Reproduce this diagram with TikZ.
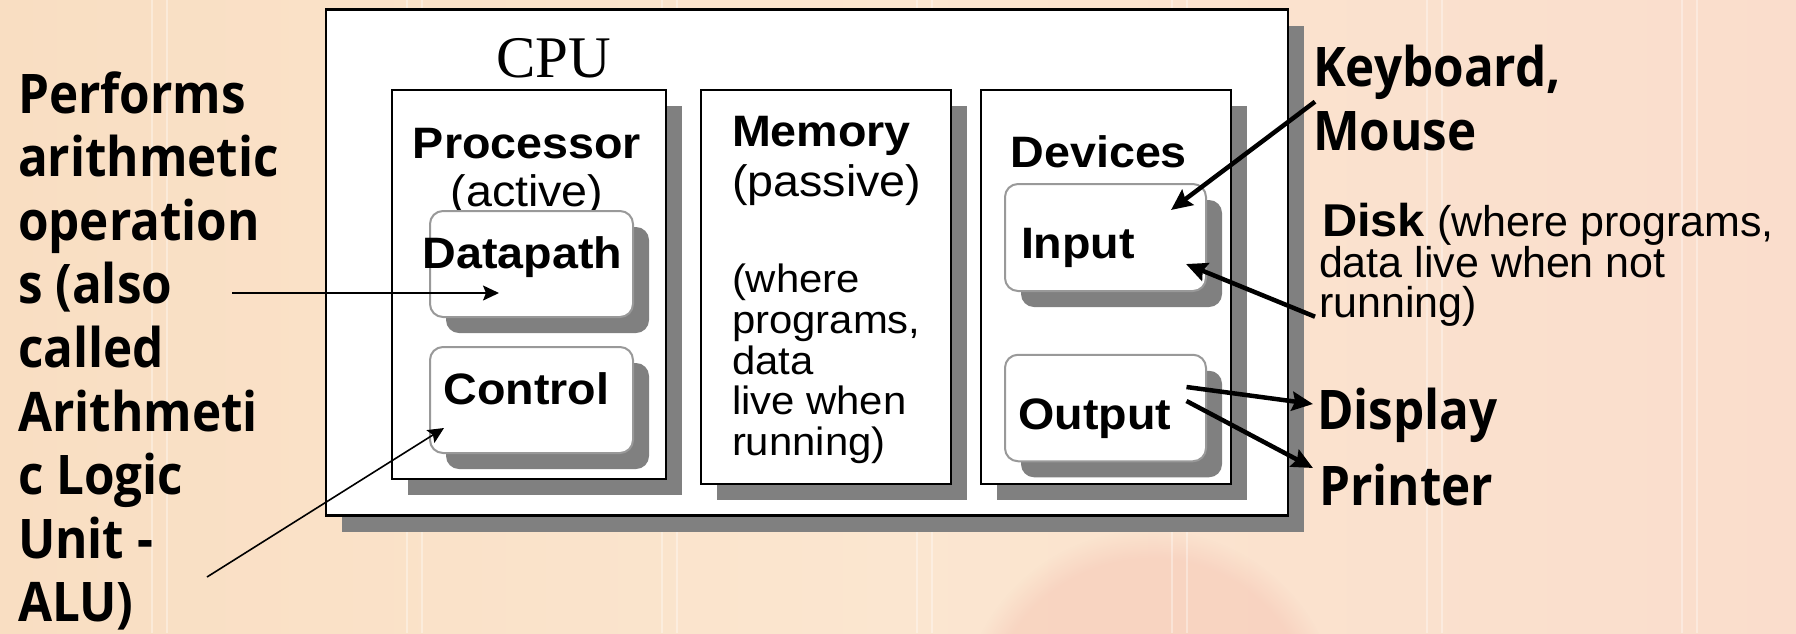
\documentclass[tikz,border=0pt]{standalone}
\usepackage{fontspec}
\setmainfont{Liberation Sans}
\newfontfamily\diagfont{Liberation Sans}[FakeStretch=1.06]
\newfontfamily\cpufont{Liberation Serif}
\newfontfamily\slidefont{Open Sans}[FakeStretch=0.905]
\usetikzlibrary{arrows.meta,shadows,fadings}

\definecolor{bgL}{HTML}{F9DEC2}
\definecolor{bgM}{HTML}{FBE6D0}
\definecolor{bgR}{HTML}{FADDCC}
\definecolor{discpink}{HTML}{F5C2B2}
\definecolor{shadowgray}{HTML}{808080}
\definecolor{unitgray}{HTML}{999999}

\newcommand\slidebold{\slidefont\bfseries\fontsize{54.6}{63.6}\selectfont}
\newcommand\diagbold{\diagfont\bfseries\fontsize{44}{40.7}\selectfont}
\newcommand\diagreg{\diagfont\fontsize{44}{40.7}\selectfont}
\newcommand\diagsmall{\diagfont\fontsize{39.5}{40.7}\selectfont}
\newcommand\notereg{\fontsize{43}{40}\selectfont}

\begin{document}
\begin{tikzpicture}[x=1pt,y=-1pt,
  txt/.style={inner sep=0pt,outer sep=0pt},
  panel/.style={draw=black,line width=2.2pt,fill=white,inner sep=0pt,
    drop shadow={shadow xshift=16pt,shadow yshift=-16pt,fill=shadowgray,opacity=1}},
  unitbox/.style={draw=unitgray,line width=2pt,fill=white,rounded corners=13pt,inner sep=0pt,
    minimum width=203pt,minimum height=106pt,
    drop shadow={shadow xshift=16pt,shadow yshift=-16pt,fill=shadowgray,opacity=1}},
  thinarrow/.style={-{Stealth[length=16pt,width=15pt,inset=3pt]},line width=1.6pt},
  thickarrow/.style={-{Stealth[length=21pt,width=19pt,inset=3pt]},line width=4.5pt}]
\useasboundingbox (0,0) rectangle (1796,633);

% slide background
\shade[left color=bgL,right color=bgR,middle color=bgM] (0,0) rectangle (1796,633);
\fill[discpink,opacity=0.45,path fading=circle with fuzzy edge 15 percent]
  (1150,720) circle (190);
\foreach \k in {0,...,6}{
  \draw[white,opacity=0.35,line width=1.2pt] ({152+255*\k},0) -- ({152+255*\k},633);
  \draw[white,opacity=0.35,line width=1.2pt] ({167+255*\k},0) -- ({167+255*\k},633);
}

% computer frame and its three parts
\node[panel,line width=2.6pt,minimum width=962pt,minimum height=506pt] (cpu) at (807,262.5) {};
\node[txt,anchor=base west,font=\cpufont\fontsize{59}{59}\selectfont] (cpulabel) at (496,77) {CPU};

\node[panel,minimum width=274pt,minimum height=389pt] (proc) at (529,284.5) {};
\node[panel,minimum width=250pt,minimum height=394pt] (mem) at (826,287) {};
\node[panel,minimum width=250pt,minimum height=394pt] (dev) at (1106,287) {};

% processor
\node[txt,anchor=base,font=\diagbold] (proctitle) at (527,158) {Processor};
\node[txt,anchor=base,font=\diagreg] (procnote) at (527,206) {(active)};
\node[unitbox] (datapath) at (531.5,264) {};
\node[unitbox] (control) at (531.5,400) {};
\node[txt,anchor=base west,font=\diagbold] (dptext) at (422.7,268.3) {Datapath};
\node[txt,anchor=base,font=\diagbold] (cttext) at (526.5,404) {Control};

% memory
\node[txt,anchor=base west,font=\diagbold] (memtitle) at (732,146.7) {Memory};
\node[txt,anchor=base west,font=\diagreg] (memnote) at (732,196) {(passive)};
\node[txt,anchor=base west,font=\diagsmall] (mem1) at (732,292) {(where};
\node[txt,anchor=base west,font=\diagsmall] (mem2) at (732,333) {programs,};
\node[txt,anchor=base west,font=\diagsmall] (mem3) at (732,374) {data};
\node[txt,anchor=base west,font=\diagsmall] (mem4) at (732,414) {live when};
\node[txt,anchor=base west,font=\diagsmall] (mem5) at (732,455) {running)};

% devices
\node[txt,anchor=base west,font=\diagbold] (devtitle) at (1010.6,167.3) {Devices};
\node[unitbox,minimum width=201pt,minimum height=107pt] (input) at (1105.5,237.5) {};
\node[unitbox,minimum width=201pt,minimum height=106.5pt] (output) at (1105.5,408) {};
\node[txt,anchor=base west,font=\diagbold] (intext) at (1021,258.6) {Input};
\node[txt,anchor=base west,font=\diagbold] (outtext) at (1018.6,429) {Output};

% ALU description on the left
\foreach \t [count=\i] in {Performs,arithmetic,operation,s (also,called,Arithmeti,c Logic,Unit -,ALU)}
  \node[txt,anchor=base west,font=\slidebold] (alu\i) at (18,{113+63.6*(\i-1)}) {\t};

% peripherals on the right
\node[txt,anchor=base west,font=\slidebold] (kb) at (1313,86.7) {Keyboard,};
\node[txt,anchor=base west,font=\slidebold] (mouse) at (1313,150) {Mouse};
\node[txt,anchor=base west] (disk) at (1322,236)
  {{\diagfont\bfseries\fontsize{46}{46}\selectfont Disk}\hspace{12pt}{\notereg(where programs,}};
\node[txt,anchor=base west,font=\notereg] (disk2) at (1319,277) {data live when not};
\node[txt,anchor=base west,font=\notereg] (disk3) at (1319,317) {running)};
\node[txt,anchor=base west,font=\slidebold] (display) at (1317,429.3) {Display};
\node[txt,anchor=base west,font=\slidebold] (printer) at (1319,505.7) {Printer};

% connector ends
\coordinate (aluA) at (232,293);
\coordinate (dpIn) at (499,293);
\coordinate (aluB) at (207,577);
\coordinate (ctIn) at (444,428);
\coordinate (kbOut) at (1315,101.7);
\coordinate (inTop) at (1171,210);
\coordinate (diskOut) at (1315,316.7);
\coordinate (inSide) at (1186,264);
\coordinate (outA) at (1186.5,387);
\coordinate (dispIn) at (1313,404);
\coordinate (outB) at (1186.5,401);
\coordinate (prIn) at (1313,468);

\draw[thinarrow] (aluA) -- (dpIn);
\draw[thinarrow] (aluB) -- (ctIn);
\draw[thickarrow] (kbOut) -- (inTop);
\draw[thickarrow] (diskOut) -- (inSide);
\draw[thickarrow] (outA) -- (dispIn);
\draw[thickarrow] (outB) -- (prIn);
\end{tikzpicture}
\end{document}
